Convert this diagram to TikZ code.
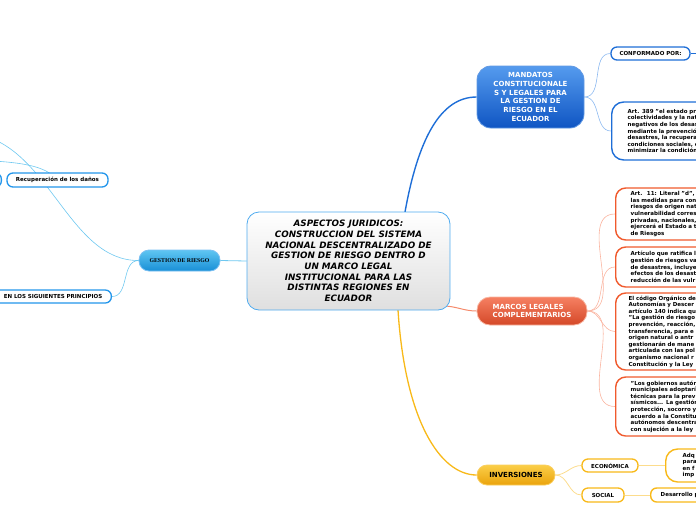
\documentclass[tikz,border=0pt]{standalone}
\usepackage{fontspec}
\setmainfont{DejaVu Sans}
\newfontfamily\grserif{Liberation Serif}
\usetikzlibrary{positioning,backgrounds}
\definecolor{grblue}{RGB}{30,110,215}
\definecolor{grbluelt}{RGB}{140,185,240}
\definecolor{grsky}{RGB}{110,200,240}
\definecolor{grskydk}{RGB}{35,150,235}
\definecolor{grred}{RGB}{240,90,45}
\definecolor{grredlt}{RGB}{250,180,160}
\definecolor{gryel}{RGB}{248,185,25}
\definecolor{gryellt}{RGB}{252,220,140}
\begin{document}
\begin{tikzpicture}[x=1pt, y=-1pt,
  grroot/.style = {draw=grskydk!80, line width=0.8, rounded corners=12, top color=white, bottom color=gray!25,
    minimum width=203, minimum height=98, align=center, inner sep=0,
    font=\fontsize{8.8}{10.7}\selectfont\bfseries\itshape},
  grhub/.style = {line width=0.8, rounded corners=#1, align=center, inner sep=0,
    font=\fontsize{7}{8.7}\selectfont\bfseries},
  grpill/.style = {draw, fill=white, line width=1.3, rounded corners=6, inner sep=0,
    font=\fontsize{5.5}{6.6}\selectfont\bfseries},
  grleaf/.style = {draw, fill=white, line width=1.4, rounded corners=10, anchor=west, align=left,
    inner ysep=1, text width=140, font=\fontsize{5.5}{6.6}\selectfont\bfseries},
  grlink/.style = {line width=0.6},
  grwire/.style = {out=0, in=180}
]
  \useasboundingbox (0,0) rectangle (696,520);
  % centro
  \node[grroot] (root) at (348.5,261) {ASPECTOS JURIDICOS:\\CONSTRUCCION DEL SISTEMA\\NACIONAL DESCENTRALIZADO DE\\
    GESTION DE RIESGO DENTRO D\\UN MARCO LEGAL\\INSTITUCIONAL PARA LAS\\DISTINTAS REGIONES EN\\ECUADOR};
  % ramas principales
  \node[grhub=14, draw=grblue!70, top color={rgb,255:red,85;green,155;blue,238}, bottom color={rgb,255:red,15;green,85;blue,195},
    text=white, minimum width=107, minimum height=62] (mand) at (530.5,97)
    {MANDATOS\\CONSTITUCIONALE\\S Y LEGALES PARA\\LA GESTION DE\\RIESGO EN EL\\ECUADOR};
  \node[grhub=13, draw=grred!45, top color={rgb,255:red,246;green,128;blue,98}, bottom color={rgb,255:red,212;green,72;blue,40},
    text=white, minimum width=110, minimum height=28, align=left] (marc) at (532,311) {MARCOS LEGALES\\COMPLEMENTARIOS};
  \node[grhub=10, draw=gryel!70, top color={rgb,255:red,251;green,206;blue,72}, bottom color={rgb,255:red,234;green,163;blue,12},
    minimum width=78, minimum height=20] (inv) at (516,475) {INVERSIONES};
  \node[grhub=10, draw=grskydk!60, top color={rgb,255:red,95;green,198;blue,242}, bottom color={rgb,255:red,25;green,143;blue,214},
    minimum width=81, minimum height=21, font=\fontsize{5.8}{7}\grserif\bfseries] (gest) at (179.5,260.5) {GESTION DE RIESGO};
  % mandatos
  \node[grpill, draw=grblue, minimum width=79, minimum height=13] (conf) at (650.5,53.5) {CONFORMADO POR:};
  \coordinate (confout) at (710,53.5);
  \node[grleaf, draw=grblue, minimum height=58, inner xsep=16, rounded corners=12] (art) at (611,131)
    {Art. 389 "el estado pro\\colectividades y la natu\\negativos de los desas\\mediante la prevención\\
     desastres, la recupera\\condiciones sociales, e\\minimizar la condición};
  % marcos legales
  \node[grleaf, draw=grred, minimum height=52, inner xsep=15] (m1) at (615,214)
    {Art.~ 11: Literal "d", e\\las medidas para con\\riesgos de origen nat\\vulnerabilidad corres\\
     privadas, nacionales,\\ejercerá el Estado a t\\de Riesgos};
  \node[grleaf, draw=grred, minimum height=40, inner xsep=15] (m2) at (615,267)
    {Artículo que ratifica l\\gestión de riesgos va\\de desastres, incluye\\efectos de los desast\\reducción de las vulr};
  \node[grleaf, draw=grred, minimum height=77, inner xsep=13] (m3) at (615,331.5)
    {El código Orgánico de\\Autonomías y Descer\\artículo 140 indica qu\\"La gestión de riesgo\\prevención, reacción,\\
     transferencia, para e\\origen natural o antr\\gestionarán de mane\\articulada con las pol\\organismo nacional r\\
     Constitución y la Ley};
  \node[grleaf, draw=grred, minimum height=59, inner xsep=15] (m4) at (615,406.5)
    {"Los gobiernos autón\\municipales adoptarí\\técnicas para la prev\\sísmicos... La gestión\\protección, socorro y\\
     acuerdo a la Constitu\\autónomos descentra\\con sujeción a la ley};
  % inversiones
  \node[grpill, draw=gryel, minimum width=56, minimum height=13] (eco) at (610,465.5) {ECONÓMICA};
  \node[grpill, draw=gryel, minimum width=42, minimum height=14] (soc) at (603,495) {SOCIAL};
  \node[grleaf, draw=gryel, minimum height=33, inner xsep=17, rounded corners=12] (adq) at (665,465.5) {Adq\\para\\en f\\imp};
  \node[grleaf, draw=gryel, minimum height=14, inner xsep=10, rounded corners=6] (des) at (650,495) {Desarrollo p};
  % gestion de riesgo
  \node[grpill, draw=grskydk, minimum width=101, minimum height=14] (rec) at (57.5,180) {Recuperación de los daños};
  \node[grpill, draw=grskydk, minimum width=60, minimum height=14, anchor=east] (lfoff) at (2,180) {};
  \node[grpill, draw=grskydk, minimum height=13, anchor=east, text width=150, align=right, inner xsep=9] (princ) at (112,296.5)
    {EN LOS SIGUIENTES PRINCIPIOS};
  \coordinate (gout) at (-20,135);
  \coordinate (recin) at (-25,160);
  % conexiones
  \begin{scope}[on background layer]
    \draw[grblue, line width=1.4] (405,212) .. controls (418,140) and (440,97) .. (mand.west);
    \draw[grred!70, line width=1] (443,306) to[grwire] (marc.west);
    \draw[gryel, line width=1.3] (398,310) .. controls (405,420) and (440,475) .. (inv.west);
    \draw[grsky, line width=0.8] (root.west) -- (gest.east);
    \foreach \t in {conf,art} \draw[grlink, grbluelt] (mand.east) to[grwire] (\t.west);
    \draw[grlink, grblue] (conf.east) -- (confout);
    \foreach \t in {m1,m2,m3,m4} \draw[grlink, grredlt] (marc.east) to[grwire] (\t.west);
    \foreach \t in {eco,soc} \draw[grlink, gryellt, line width=0.8] (inv.east) to[grwire] (\t.west);
    \draw[grlink, gryellt, line width=0.8] (eco.east) -- (adq.west);
    \draw[grlink, gryellt, line width=0.8] (soc.east) -- (des.west);
    \draw[grlink, grsky] (gest.west) to[out=180, in=0] (princ.east);
    \draw[grlink, grsky] (gest.west) .. controls (70,261) and (50,150) .. (gout);
    \draw[grlink, grsky] (recin) .. controls (20,162) and (45,165) .. (rec.center);
  \end{scope}
\end{tikzpicture}
\end{document}
